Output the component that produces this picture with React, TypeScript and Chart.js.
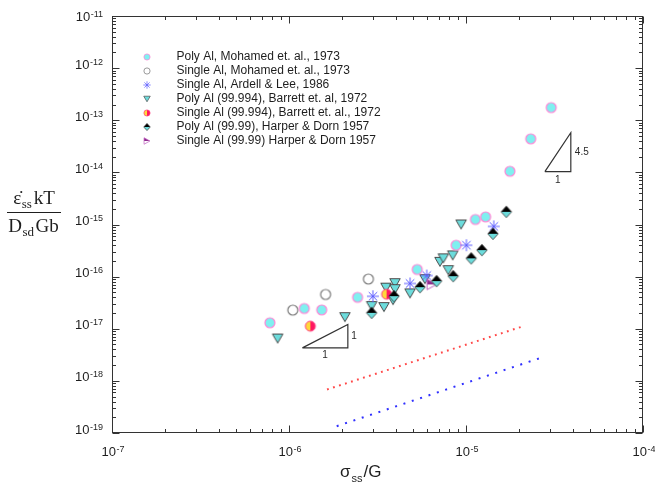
import React, { useEffect, useRef } from "react";
import { Chart, registerables } from "chart.js";

Chart.register(...registerables);

// ---------------- Data ----------------
const polyMohamedX = [7.8e-7, 1.22e-6, 1.53e-6, 2.44e-6, 5.3e-6, 8.8e-6, 1.13e-5, 1.29e-5, 1.77e-5, 2.32e-5, 3.03e-5];
const polyMohamedY = [1.3e-17, 2.45e-17, 2.3e-17, 4.0e-17, 1.37e-16, 4.0e-16, 1.25e-15, 1.4e-15, 1.05e-14, 4.4e-14, 1.75e-13];

const singleMohamedX = [1.05e-6, 1.61e-6, 2.81e-6];
const singleMohamedY = [2.28e-17, 4.55e-17, 9.0e-17];

const ardellX = [2.98e-6, 4.83e-6, 6.0e-6, 1.005e-5, 1.435e-5];
const ardellY = [4.2e-17, 7.4e-17, 1.05e-16, 4.0e-16, 9.2e-16];

const barrettPolyX = [8.63e-7, 2.07e-6, 2.93e-6, 3.44e-6, 3.53e-6, 3.97e-6, 3.97e-6, 3.87e-6, 4.83e-6, 5.86e-6, 7.13e-6, 7.45e-6, 8.41e-6, 7.94e-6, 9.38e-6];
const barrettPolyY = [6.5e-18, 1.67e-17, 2.72e-17, 2.6e-17, 6.15e-17, 7.5e-17, 5.75e-17, 3.54e-17, 4.76e-17, 8.95e-17, 1.92e-16, 2.24e-16, 2.55e-16, 1.33e-16, 1.0e-15];

const barrettSingleX = [1.32e-6, 3.56e-6];
const barrettSingleY = [1.12e-17, 4.6e-17];

const harperPolyX = [2.93e-6, 3.92e-6, 5.5e-6, 6.82e-6, 8.47e-6, 1.07e-5, 1.23e-5, 1.42e-5, 1.69e-5];
const harperPolyY = [2.02e-17, 4.22e-17, 6.28e-17, 8.2e-17, 1.02e-16, 2.24e-16, 3.23e-16, 6.63e-16, 1.75e-15];

const harperSingleX = [6.4e-6];
const harperSingleY = [7.1e-17];

const redLineX = [1.64e-6, 2.11e-5];
const redLineY = [6.84e-19, 1.12e-17];

const blueLineX = [1.86e-6, 2.68e-5];
const blueLineY = [1.35e-19, 2.81e-18];

const slope1X = [1.19e-6, 2.15e-6, 2.15e-6, 1.19e-6];
const slope1Y = [4.3e-18, 4.3e-18, 1.21e-17, 4.3e-18];

const slope45X = [2.79e-5, 3.91e-5, 3.91e-5, 2.79e-5];
const slope45Y = [1.03e-14, 1.03e-14, 5.75e-14, 1.03e-14];

const xTickExponents = [-7, -6, -5, -4];
const yTickExponents = [-19, -18, -17, -16, -15, -14, -13, -12, -11];

const legendLabels = [
  "Poly Al, Mohamed et. al., 1973",
  "Single Al, Mohamed et. al., 1973",
  "Single Al, Ardell & Lee, 1986",
  "Poly Al (99.994), Barrett et. al, 1972",
  "Single Al (99.994), Barrett et. al., 1972",
  "Poly Al (99.99), Harper & Dorn 1957",
  "Single Al (99.99) Harper & Dorn 1957",
];
const legendKinds = ["polyM", "singleM", "ardell", "barrettP", "barrettS", "harperP", "harperS"];

// ---------------- Styling helpers ----------------
const SANS = '"Liberation Sans", Arial, Helvetica, sans-serif';
const SERIF = '"Liberation Serif", "Times New Roman", serif';
const CYAN = "#7ff0f0";
const CYAN2 = "#6cdcdc";

const zip = (xs: number[], ys: number[]) => xs.map((x, i) => ({ x, y: ys[i] }));

function drawMarker(ctx: CanvasRenderingContext2D, kind: string, cx: number, cy: number, s: number) {
  ctx.save();
  const lw = (w: number) => Math.max(0.7, w * s);
  switch (kind) {
    case "polyM": {
      const r = 5 * s;
      ctx.beginPath();
      ctx.arc(cx, cy, r, 0, Math.PI * 2);
      ctx.fillStyle = CYAN;
      ctx.fill();
      ctx.lineWidth = lw(1.2);
      ctx.strokeStyle = "#ff86d6";
      ctx.stroke();
      break;
    }
    case "singleM": {
      const r = 5 * s;
      ctx.beginPath();
      ctx.arc(cx, cy, r, 0, Math.PI * 2);
      ctx.lineWidth = lw(1.2);
      ctx.strokeStyle = "#7a7a7a";
      ctx.stroke();
      break;
    }
    case "ardell": {
      const r = 6 * s;
      ctx.strokeStyle = "#5c5cff";
      ctx.lineWidth = lw(1);
      ctx.beginPath();
      for (let i = 0; i < 4; i++) {
        const a = (i * Math.PI) / 4;
        ctx.moveTo(cx - r * Math.cos(a), cy - r * Math.sin(a));
        ctx.lineTo(cx + r * Math.cos(a), cy + r * Math.sin(a));
      }
      ctx.stroke();
      break;
    }
    case "barrettP": {
      const w = 10.5 * s, h = 9 * s;
      ctx.beginPath();
      ctx.moveTo(cx - w / 2, cy - h / 2);
      ctx.lineTo(cx + w / 2, cy - h / 2);
      ctx.lineTo(cx, cy + h / 2);
      ctx.closePath();
      ctx.fillStyle = CYAN2;
      ctx.fill();
      ctx.lineWidth = lw(1);
      ctx.strokeStyle = "#4a4a4a";
      ctx.stroke();
      break;
    }
    case "barrettS": {
      const r = 5 * s;
      ctx.beginPath();
      ctx.moveTo(cx, cy);
      ctx.arc(cx, cy, r, Math.PI / 2, Math.PI * 1.5);
      ctx.closePath();
      ctx.fillStyle = "#ffd83a";
      ctx.fill();
      ctx.beginPath();
      ctx.moveTo(cx, cy);
      ctx.arc(cx, cy, r, -Math.PI / 2, Math.PI / 2);
      ctx.closePath();
      ctx.fillStyle = "#ff1760";
      ctx.fill();
      ctx.beginPath();
      ctx.arc(cx, cy, r, 0, Math.PI * 2);
      ctx.lineWidth = lw(1);
      ctx.strokeStyle = "#ff3d80";
      ctx.stroke();
      break;
    }
    case "harperP": {
      const w = 10.5 * s, h = 11.5 * s;
      ctx.beginPath();
      ctx.moveTo(cx, cy - h / 2);
      ctx.lineTo(cx + w / 2, cy);
      ctx.lineTo(cx - w / 2, cy);
      ctx.closePath();
      ctx.fillStyle = "#000";
      ctx.fill();
      ctx.beginPath();
      ctx.moveTo(cx - w / 2, cy);
      ctx.lineTo(cx + w / 2, cy);
      ctx.lineTo(cx, cy + h / 2);
      ctx.closePath();
      ctx.fillStyle = CYAN2;
      ctx.fill();
      ctx.beginPath();
      ctx.moveTo(cx, cy - h / 2);
      ctx.lineTo(cx + w / 2, cy);
      ctx.lineTo(cx, cy + h / 2);
      ctx.lineTo(cx - w / 2, cy);
      ctx.closePath();
      ctx.lineWidth = lw(0.8);
      ctx.strokeStyle = "#333";
      ctx.stroke();
      break;
    }
    case "harperS": {
      const w = 9.5 * s, h = 10.5 * s;
      ctx.beginPath();
      ctx.moveTo(cx - w / 2, cy - h / 2);
      ctx.lineTo(cx + w / 2, cy);
      ctx.lineTo(cx - w / 2, cy);
      ctx.closePath();
      ctx.fillStyle = "#8e2c8e";
      ctx.fill();
      ctx.beginPath();
      ctx.moveTo(cx - w / 2, cy - h / 2);
      ctx.lineTo(cx + w / 2, cy);
      ctx.lineTo(cx - w / 2, cy + h / 2);
      ctx.closePath();
      ctx.lineWidth = lw(1);
      ctx.strokeStyle = "#c060c0";
      ctx.stroke();
      break;
    }
  }
  ctx.restore();
}

function makeMarkerImage(kind: string): HTMLCanvasElement {
  const c = document.createElement("canvas");
  c.width = 16;
  c.height = 16;
  const ctx = c.getContext("2d")!;
  drawMarker(ctx, kind, 8, 8, 1);
  return c;
}

function drawPow(ctx: CanvasRenderingContext2D, exp: number, x: number, y: number, align: "center" | "right") {
  ctx.save();
  ctx.fillStyle = "#1e1e1e";
  ctx.font = `13px ${SANS}`;
  const base = "10";
  const w1 = ctx.measureText(base).width;
  ctx.font = `9px ${SANS}`;
  const es = String(exp);
  const w2 = ctx.measureText(es).width;
  const total = w1 + w2 + 0.5;
  const sx = align === "right" ? x - total : x - total / 2;
  ctx.textAlign = "left";
  ctx.font = `13px ${SANS}`;
  ctx.textBaseline = "middle";
  ctx.fillText(base, sx, y);
  ctx.font = `9px ${SANS}`;
  ctx.textBaseline = "alphabetic";
  ctx.fillText(es, sx + w1 + 0.5, y - 0.5);
  ctx.restore();
}

function drawSeq(ctx: CanvasRenderingContext2D, parts: { t: string; font: string; dy: number; gap: number }[], cx: number, baseline: number) {
  let total = 0;
  const widths = parts.map((p) => {
    ctx.font = p.font;
    const w = ctx.measureText(p.t).width;
    total += w + p.gap;
    return w;
  });
  let x = cx - total / 2;
  ctx.textAlign = "left";
  ctx.textBaseline = "alphabetic";
  parts.forEach((p, i) => {
    ctx.font = p.font;
    ctx.fillText(p.t, x, baseline + p.dy);
    x += widths[i] + p.gap;
  });
}

const decorPlugin = {
  id: "decor",
  afterDatasetsDraw(chart: any) {
    const ctx: CanvasRenderingContext2D = chart.ctx;
    const { left, right, top, bottom } = chart.chartArea;
    const xs = chart.scales.x;
    const ys = chart.scales.y;
    ctx.save();

    // frame
    const L = Math.round(left) + 0.5, R = Math.round(right) - 0.5;
    const T = Math.round(top) + 0.5, B = Math.round(bottom) - 0.5;
    ctx.strokeStyle = "#333";
    ctx.lineWidth = 1;
    ctx.strokeRect(L, T, R - L, B - T);

    // ticks (inside, all four sides)
    ctx.beginPath();
    const xMin = xTickExponents[0], xMax = xTickExponents[xTickExponents.length - 1];
    for (let e = xMin; e <= xMax; e++) {
      for (let k = 1; k <= 9; k++) {
        if (e === xMax && k > 1) break;
        const px = Math.round(xs.getPixelForValue(k * Math.pow(10, e))) + 0.5;
        const len = k === 1 ? 7 : 3.5;
        ctx.moveTo(px, B);
        ctx.lineTo(px, B - len);
        ctx.moveTo(px, T);
        ctx.lineTo(px, T + len);
      }
    }
    const yMin = yTickExponents[0], yMax = yTickExponents[yTickExponents.length - 1];
    for (let e = yMin; e <= yMax; e++) {
      for (let k = 1; k <= 9; k++) {
        if (e === yMax && k > 1) break;
        const py = Math.round(ys.getPixelForValue(k * Math.pow(10, e))) + 0.5;
        const len = k === 1 ? 7 : 3.5;
        ctx.moveTo(L, py);
        ctx.lineTo(L + len, py);
        ctx.moveTo(R, py);
        ctx.lineTo(R - len, py);
      }
    }
    ctx.stroke();

    // tick labels
    xTickExponents.forEach((e) => {
      const px = xs.getPixelForValue(Math.pow(10, e));
      drawPow(ctx, e, px + 1, bottom + 19, "center");
    });
    yTickExponents.forEach((e) => {
      const py = ys.getPixelForValue(Math.pow(10, e));
      const yc = e === yMax ? py + 1.5 : py - 3;
      drawPow(ctx, e, left - 9, yc, "right");
    });

    // x-axis title
    ctx.fillStyle = "#1e1e1e";
    {
      ctx.font = `17px ${SANS}`;
      const x0 = 340;
      const yb = 477;
      ctx.textAlign = "left";
      ctx.textBaseline = "alphabetic";
      ctx.fillText("σ", x0, yb);
      const w1 = ctx.measureText("σ").width;
      ctx.font = `11px ${SANS}`;
      ctx.fillText("ss", x0 + w1 + 1, yb + 4.5);
      const w2 = ctx.measureText("ss").width;
      ctx.font = `17px ${SANS}`;
      ctx.fillText("/G", x0 + w1 + w2 + 2, yb);
    }

    // y-axis title (fraction)
    {
      const big = `19px ${SERIF}`;
      const small = `13px ${SERIF}`;
      drawSeq(ctx, [
        { t: "ε̇", font: big, dy: 0, gap: 0.5 },
        { t: "ss", font: small, dy: 4, gap: 2 },
        { t: "kT", font: big, dy: 0, gap: 0 },
      ], 34, 204);
      ctx.beginPath();
      ctx.lineWidth = 1.2;
      ctx.strokeStyle = "#1e1e1e";
      ctx.moveTo(7, 212.5);
      ctx.lineTo(61, 212.5);
      ctx.stroke();
      drawSeq(ctx, [
        { t: "D", font: big, dy: 0, gap: 0.5 },
        { t: "sd", font: small, dy: 4, gap: 1.5 },
        { t: "Gb", font: big, dy: 0, gap: 0 },
      ], 33.5, 231.5);
    }

    // slope triangle labels
    ctx.font = `10px ${SANS}`;
    ctx.fillStyle = "#2a2a2a";
    ctx.textBaseline = "middle";
    {
      const xa = xs.getPixelForValue(slope1X[0]);
      const xb = xs.getPixelForValue(slope1X[1]);
      const yb = ys.getPixelForValue(slope1Y[0]);
      const yt = ys.getPixelForValue(slope1Y[2]);
      ctx.textAlign = "center";
      ctx.fillText("1", (xa + xb) / 2, yb + 7);
      ctx.textAlign = "left";
      ctx.fillText("1", xb + 3.5, (yb + yt) / 2);
    }
    {
      const xa = xs.getPixelForValue(slope45X[0]);
      const xb = xs.getPixelForValue(slope45X[1]);
      const yb = ys.getPixelForValue(slope45Y[0]);
      const yt = ys.getPixelForValue(slope45Y[2]);
      ctx.textAlign = "center";
      ctx.fillText("1", (xa + xb) / 2, yb + 9);
      ctx.textAlign = "left";
      ctx.fillText("4.5", xb + 4, (yb + yt) / 2);
    }

    // legend
    ctx.font = `12px ${SANS}`;
    ctx.fillStyle = "#1e1e1e";
    ctx.textAlign = "left";
    ctx.textBaseline = "middle";
    legendLabels.forEach((lab, i) => {
      const y = 57 + i * 14;
      drawMarker(ctx, legendKinds[i], 147, y, 0.62);
      ctx.fillText(lab, 176.5, y);
    });

    ctx.restore();
  },
};

export default function App() {
  const ref = useRef<HTMLCanvasElement | null>(null);

  useEffect(() => {
    if (!ref.current) return;
    const img = (k: string) => makeMarkerImage(k);
    const pts = (label: string, kind: string, xs: number[], ys: number[]) => ({
      label,
      data: zip(xs, ys),
      pointStyle: img(kind),
      pointRadius: 5,
      showLine: false,
    });
    const line = (label: string, xs: number[], ys: number[], color: string, width: number, dash: number[]) => ({
      label,
      data: zip(xs, ys),
      showLine: true,
      borderColor: color,
      borderWidth: width,
      borderDash: dash,
      borderCapStyle: "butt",
      pointRadius: 0,
      fill: false,
      tension: 0,
    });

    const chart = new Chart(ref.current, {
      type: "scatter",
      data: {
        datasets: [
          pts(legendLabels[5], "harperP", harperPolyX, harperPolyY),
          pts(legendLabels[6], "harperS", harperSingleX, harperSingleY),
          pts(legendLabels[4], "barrettS", barrettSingleX, barrettSingleY),
          pts(legendLabels[2], "ardell", ardellX, ardellY),
          pts(legendLabels[0], "polyM", polyMohamedX, polyMohamedY),
          pts(legendLabels[1], "singleM", singleMohamedX, singleMohamedY),
          pts(legendLabels[3], "barrettP", barrettPolyX, barrettPolyY),
          line("red", redLineX, redLineY, "#ff4848", 2, [1.8, 4.5]),
          line("blue", blueLineX, blueLineY, "#3030ff", 2, [2, 6.8]),
          line("slope1", slope1X, slope1Y, "#333", 1.2, []),
          line("slope45", slope45X, slope45Y, "#333", 1.2, []),
        ] as any,
      },
      options: {
        animation: false,
        responsive: false,
        events: [],
        layout: { padding: { left: 112, right: 12, top: 16, bottom: 50 } },
        plugins: { legend: { display: false }, tooltip: { enabled: false }, title: { display: false } },
        scales: {
          x: { type: "logarithmic", min: 1e-7, max: 1e-4, display: false },
          y: { type: "logarithmic", min: 1e-19, max: 1e-11, display: false },
        },
      } as any,
      plugins: [decorPlugin],
    });
    return () => chart.destroy();
  }, []);

  return (
    <div style={{ position: "fixed", left: 0, top: 0, width: 655, height: 483, background: "#fff" }}>
      <canvas ref={ref} width={655} height={483} style={{ display: "block" }} />
    </div>
  );
}
